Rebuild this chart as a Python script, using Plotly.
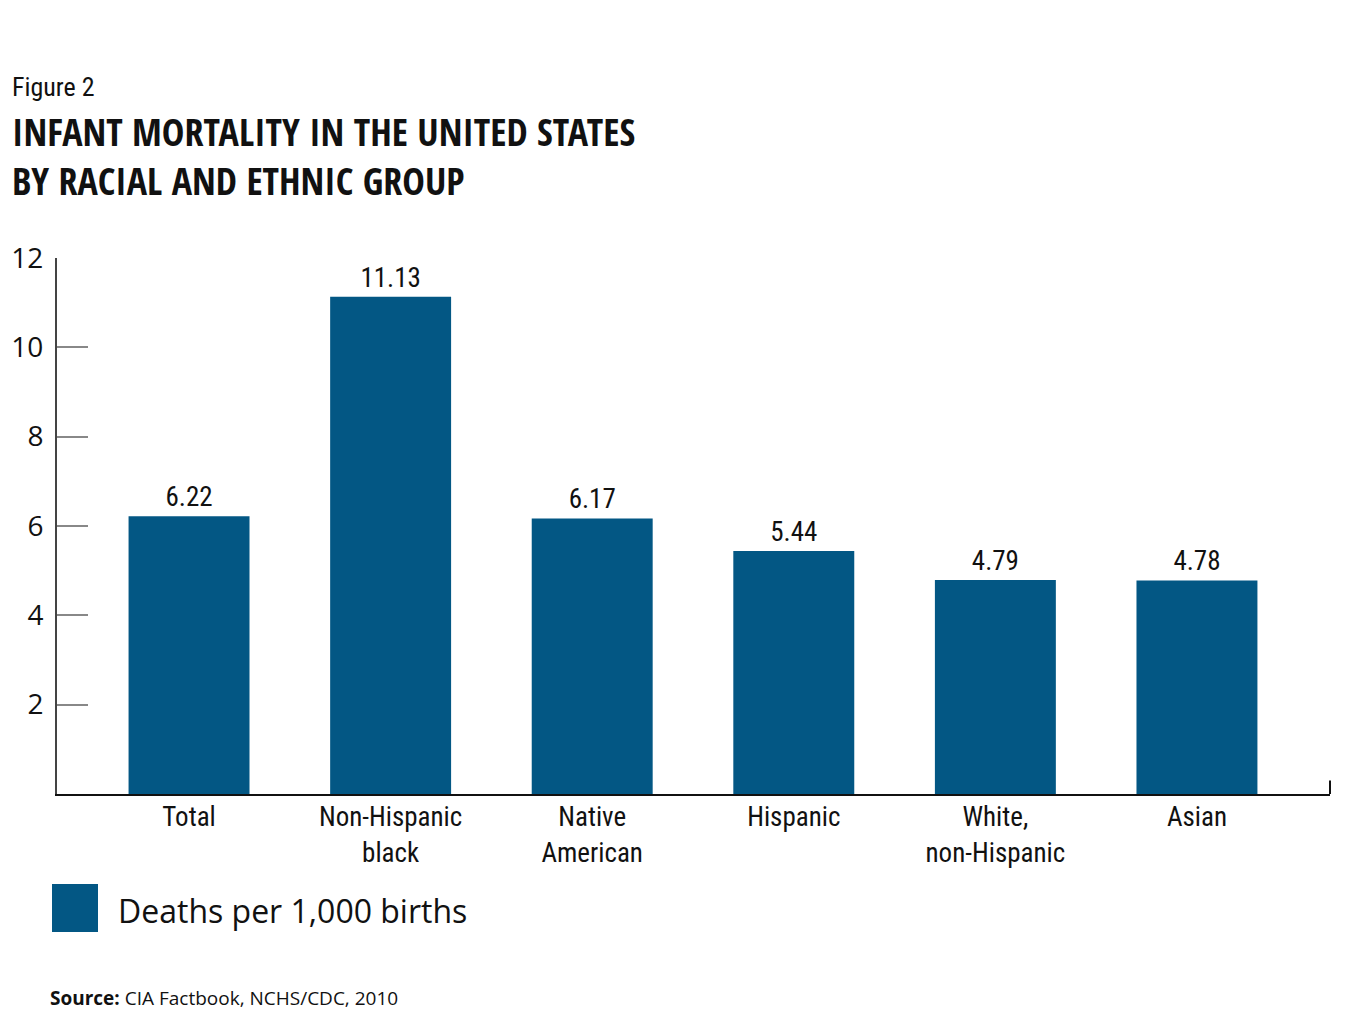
import plotly.graph_objects as go

categories = ["Total", "Non-Hispanic<br>black", "Native<br>American", "Hispanic", "White,<br>non-Hispanic", "Asian"]
values = [6.22, 11.13, 6.17, 5.44, 4.79, 4.78]
value_labels = ["6.22", "11.13", "6.17", "5.44", "4.79", "4.78"]
y_ticks = [2, 4, 6, 8, 10, 12]
series_name = "Deaths per 1,000 births"

COND = "'Roboto Condensed', sans-serif"
TITLE = "'Open Sans Condensed', 'Roboto Condensed', sans-serif"
HUM = "'Open Sans', 'Noto Sans', sans-serif"
BAR = "#035784"

# page body adds an 8px offset; figure size and margins compensate
W, H = 1342, 1004
L, R, T, B = 49, 20, 250, 218
PW, PH = W - L - R, H - T - B
OX, OY = 8 + L, 8 + T + PH  # absolute pixel of plot-area left / bottom


def px(x):
    return (x - OX) / PW


def py(y):
    return (OY - y) / PH


fig = go.Figure()
fig.add_trace(go.Bar(
    x=list(range(len(categories))),
    y=values,
    text=value_labels,
    textposition="outside",
    textfont=dict(family=COND, size=27, color="#111"),
    marker=dict(color=BAR, line=dict(width=0)),
    width=0.6,
    cliponaxis=False,
    name=series_name,
    showlegend=False,
))

fig.update_layout(
    width=W, height=H,
    paper_bgcolor="white", plot_bgcolor="white",
    margin=dict(l=L, r=R, t=T, b=B),
    xaxis=dict(
        tickmode="array",
        tickvals=list(range(len(categories))),
        ticktext=categories,
        range=[-0.655, 5.66],
        showline=True, linecolor="#111", linewidth=2,
        showgrid=False, zeroline=False, ticks="",
        tickfont=dict(family=COND, size=27, color="#111"),
        ticklabelstandoff=-2,
        automargin=False,
    ),
    yaxis=dict(
        range=[0, 12],
        tickvals=y_ticks,
        showline=True, linecolor="#444", linewidth=2,
        ticks="inside", ticklen=31, tickcolor="#888", tickwidth=2,
        showgrid=False, zeroline=False,
        tickfont=dict(family=HUM, size=28, color="#111"),
        ticklabelstandoff=6,
        automargin=False,
    ),
    showlegend=False,
)

# small end tick at right of x axis
fig.add_shape(type="line", xref="paper", yref="y domain", x0=1, x1=1, y0=0, y1=0.025,
              line=dict(color="#111", width=2))

# legend swatch
fig.add_shape(type="rect", xref="paper", yref="paper",
              x0=px(52), x1=px(98), y0=py(932), y1=py(884),
              fillcolor=BAR, line=dict(width=0))

fig.add_annotation(text=series_name, xref="paper", yref="paper",
                   x=px(116), y=py(910), xanchor="left", yanchor="middle",
                   showarrow=False, font=dict(family=HUM, size=32, color="#111"))

fig.add_annotation(text="<b>Source:</b> CIA Factbook, NCHS/CDC, 2010", xref="paper", yref="paper",
                   x=px(48), y=py(998), xanchor="left", yanchor="middle",
                   showarrow=False, font=dict(family=HUM, size=19, color="#111"))

fig.add_annotation(text="Figure 2", xref="paper", yref="paper",
                   x=px(10), y=py(87), xanchor="left", yanchor="middle",
                   showarrow=False, font=dict(family=COND, size=26, color="#111"))

fig.add_annotation(text="INFANT MORTALITY IN THE UNITED STATES<br>BY RACIAL AND ETHNIC GROUP",
                   xref="paper", yref="paper", align="left",
                   x=px(10), y=py(156), xanchor="left", yanchor="middle",
                   showarrow=False, font=dict(family=TITLE, size=38, color="#111", weight="bold"))

fig.write_html("out.html")
